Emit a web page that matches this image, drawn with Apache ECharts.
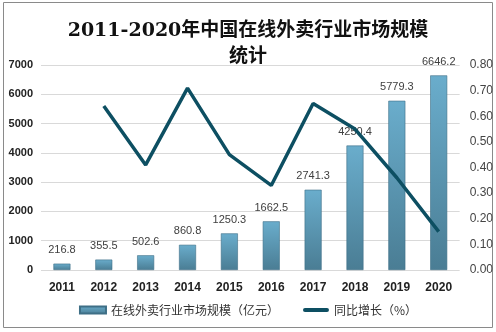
<!DOCTYPE html>
<html>
<head>
<meta charset="utf-8">
<script src="https://cdn.jsdelivr.net/npm/echarts@6/dist/echarts.min.js"></script>
<style>
  html, body { margin: 0; padding: 0; background: #fff; }
  #chart { width: 496px; height: 332px; }
</style>
</head>
<body>
<div id="chart"></div>
<script>
// Online food delivery market, 2011-2020
const years = ['2011', '2012', '2013', '2014', '2015', '2016', '2017', '2018', '2019', '2020'];
const marketSize = [216.8, 355.5, 502.6, 860.8, 1250.3, 1662.5, 2741.3, 4250.4, 5779.3, 6646.2];
const yoyGrowth = [null, 0.64, 0.41, 0.71, 0.45, 0.33, 0.65, 0.55, 0.36, 0.15];
const sizeTicks = { min: 0, max: 7000, interval: 1000 };
const growthTicks = { min: 0, max: 0.8, interval: 0.1 };

const chart = echarts.init(document.getElementById('chart'));
chart.setOption({
  animation: false,
  backgroundColor: '#fff',
  title: {
    text: '2011-2020年中国在线外卖行业市场规模\n统计',
    left: 'center',
    top: 13,
    textStyle: {
      fontFamily: '"DejaVu Serif", "Noto Sans CJK SC", serif',
      fontSize: 19,
      fontWeight: 'bold',
      color: '#111',
      lineHeight: 26
    }
  },
  graphic: [{
    type: 'rect',
    shape: { x: 3.5, y: 2.5, width: 489, height: 325 },
    style: { fill: 'none', stroke: '#8a8a8a', lineWidth: 1 },
    silent: true
  }],
  legend: {
    bottom: 11,
    left: 'center',
    itemGap: 24,
    itemWidth: 26,
    itemHeight: 7,
    textStyle: { fontFamily: '"Noto Sans CJK SC", sans-serif', fontSize: 12, color: '#333' },
    data: [
      { name: '在线外卖行业市场规模（亿元）', icon: 'rect' },
      { name: '同比增长（%）', icon: 'path://M2,2 L24,2 A2,2 0 0 1 24,6 L2,6 A2,2 0 0 1 2,2 Z', itemStyle: { color: '#0d4f62' } }
    ]
  },
  grid: { left: 41, right: 34, top: 65, bottom: 62 },
  xAxis: {
    type: 'category',
    data: years,
    axisLine: { show: false },
    axisTick: { show: false },
    axisLabel: { color: '#222', fontWeight: 'bold', fontSize: 12, margin: 12, fontFamily: 'Liberation Sans, sans-serif' }
  },
  yAxis: [{
    type: 'value',
    min: sizeTicks.min, max: sizeTicks.max, interval: sizeTicks.interval,
    axisLine: { show: false },
    axisTick: { show: false },
    splitLine: { lineStyle: { color: '#d9d9d9' } },
    axisLabel: { color: '#222', fontWeight: 'bold', fontSize: 11, margin: 8, formatter: v => String(v), fontFamily: 'Liberation Sans, sans-serif' }
  }, {
    type: 'value',
    min: growthTicks.min, max: growthTicks.max, interval: growthTicks.interval,
    axisLine: { show: false },
    axisTick: { show: false },
    splitLine: { show: false },
    axisLabel: { color: '#444', fontSize: 12, margin: 10, formatter: v => v.toFixed(2), fontFamily: 'Liberation Sans, sans-serif' }
  }],
  series: [{
    name: '在线外卖行业市场规模（亿元）',
    type: 'bar',
    data: marketSize,
    barWidth: 17,
    itemStyle: {
      color: new echarts.graphic.LinearGradient(0, 0, 0, 1, [
        { offset: 0, color: '#6aadcc' },
        { offset: 1, color: '#4a7d94' }
      ]),
      borderColor: '#3e6f86',
      borderWidth: 0.6
    },
    label: {
      show: true,
      position: 'top',
      distance: 8,
      color: '#404040',
      fontSize: 11,
      fontFamily: 'Liberation Sans, sans-serif',
      formatter: p => p.value.toFixed(1)
    }
  }, {
    name: '同比增长（%）',
    type: 'line',
    yAxisIndex: 1,
    data: yoyGrowth,
    symbol: 'none',
    lineStyle: { color: '#0d4f62', width: 3.5 },
    itemStyle: { color: '#0d4f62' },
    z: 3
  }]
});
</script>
</body>
</html>
